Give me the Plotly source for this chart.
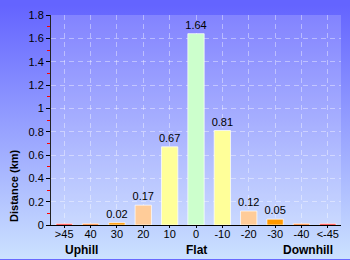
import base64
import plotly.graph_objects as go

categories = [">45", "40", "30", "20", "10", "0", "-10", "-20", "-30", "-40", "<-45"]
distances = [0.012, 0.012, 0.02, 0.17, 0.67, 1.64, 0.81, 0.12, 0.05, 0.012, 0.012]
bar_colors = ["#ff0000", "#ff6600", "#ff9900", "#ffcc99", "#ffff99", "#ccffcc",
              "#ffff99", "#ffcc99", "#ff9900", "#ff6600", "#ff0000"]
group_labels = ["Uphill", "Flat", "Downhill"]
y_ticks = [0, 0.2, 0.4, 0.6, 0.8, 1, 1.2, 1.4, 1.6, 1.8]

W, H = 350, 260
L, R, T, B = 51, 9, 10, 35
PW, PH = W - L - R, H - T - B

labels = [f"{v:.2f}" if v >= 0.015 else "" for v in distances]

svg = f'''<svg xmlns="http://www.w3.org/2000/svg" width="{W}" height="{H}" viewBox="0 0 {W} {H}" preserveAspectRatio="none">
<defs><linearGradient id="g" x1="0" y1="0" x2="0" y2="1">
<stop offset="0" stop-color="#6464ff"/><stop offset="1" stop-color="#cce2ff"/></linearGradient></defs>
<rect x="0" y="0" width="{W}" height="{H}" fill="url(#g)"/>
<rect x="{L}" y="{T}" width="{PW}" height="{PH}" fill="#ffffff" fill-opacity="0.18"/>
</svg>'''
src = "data:image/svg+xml;base64," + base64.b64encode(svg.encode()).decode()

fig = go.Figure(go.Bar(
    x=categories, y=distances,
    marker=dict(color=bar_colors, line=dict(color="rgba(255,255,255,0.7)", width=1)),
    text=labels, textposition="outside", cliponaxis=False, constraintext="none",
    textfont=dict(family="Liberation Sans, Arial", size=11, color="#000"),
))

fig.update_layout(
    width=W, height=H,
    margin=dict(l=L, r=R, t=T, b=B, pad=0),
    paper_bgcolor="#6464ff", plot_bgcolor="rgba(0,0,0,0)",
    bargap=0.38, showlegend=False,
    font=dict(family="Liberation Sans, Arial", size=11, color="#000"),
    images=[dict(source=src, xref="paper", yref="paper",
                 x=-L / PW, y=1 + T / PH, sizex=W / PW, sizey=H / PH,
                 xanchor="left", yanchor="top", sizing="stretch", layer="below")],
)
fig.update_xaxes(
    showline=True, linecolor="#000", linewidth=1,
    ticks="outside", ticklen=2, tickcolor="#000", ticklabelstandoff=-3,
    showgrid=True, gridcolor="rgba(255,255,255,0.4)", griddash="5px,4px",
    tickfont=dict(size=11),
)
fig.update_yaxes(
    range=[0, 1.8], tickvals=y_ticks, ticktext=[f"{v:g}" for v in y_ticks],
    showline=True, linecolor="#222", linewidth=1,
    ticks="outside", ticklen=4, tickcolor="#000",
    showgrid=True, gridcolor="rgba(255,255,255,0.4)", griddash="5px,4px",
    zeroline=False, tickfont=dict(size=11),
    minor=dict(dtick=0.1, tick0=0, ticks="outside", ticklen=3, tickcolor="#ff0000", showgrid=False),
)

fig.add_annotation(text="<b>Distance (km)</b>", xref="paper", yref="paper",
                   x=(14 - L) / PW, y=(T + PH - 185) / PH, textangle=-90,
                   xanchor="center", yanchor="middle",
                   showarrow=False, font=dict(size=11, color="#000"))
for lbl, px in zip(group_labels, [81, 196, 308]):
    fig.add_annotation(text=f"<b>{lbl}</b>", xref="paper", yref="paper",
                       x=(px - L) / PW, y=(T + PH - 251) / PH,
                       xanchor="center", yanchor="middle",
                       showarrow=False, font=dict(size=12, color="#000"))

fig.write_html("out.html")
